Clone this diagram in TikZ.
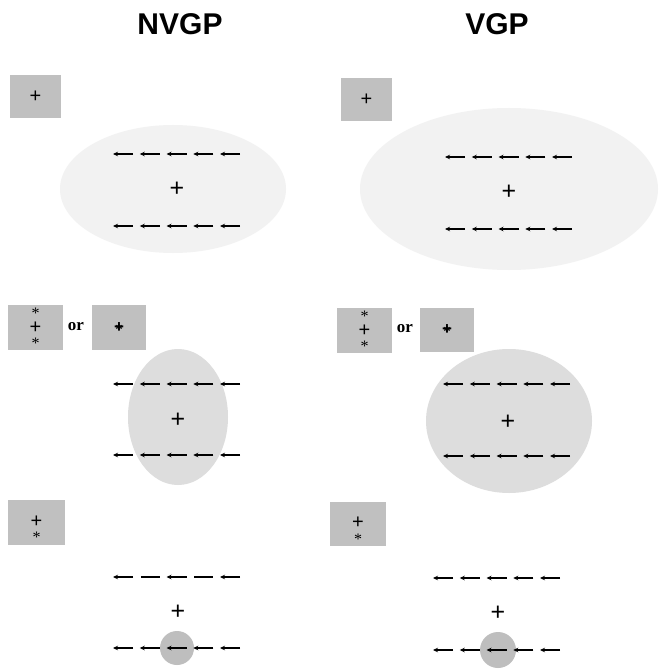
\documentclass[tikz,border=0pt]{standalone}
\usepackage{fontspec}
\setmainfont{Liberation Serif}
\setsansfont{Liberation Sans}
\usetikzlibrary{arrows.meta}

\definecolor{fieldlight}{HTML}{F2F2F2}
\definecolor{fieldmid}{HTML}{DDDDDD}
\definecolor{boxgray}{HTML}{C0C0C0}
\definecolor{spotgray}{HTML}{BEBEBE}

% five leftward arrows, first tail at x=#1, row at y=#2
\newcommand{\flankrow}[2]{%
  \foreach \k in {0,...,4}
    \draw[dir] ({#1+26.75*\k+20},#2) -- ({#1+26.75*\k},#2);}

\begin{document}
\begin{tikzpicture}[
  x=1pt,y=-1pt,
  dir/.style={line width=1.4pt,-{Stealth[length=5pt,width=4.5pt]}},
  bar/.style={line width=1.4pt},
  cue/.style={fill=boxgray,inner sep=0pt},
  fix/.style={font=\fontsize{25}{25}\selectfont\sffamily,inner sep=0pt},
  small/.style={font=\fontsize{20}{20}\selectfont\sffamily,inner sep=0pt},
  star/.style={font=\fontsize{16}{16}\selectfont,inner sep=0pt},
  title/.style={font=\fontsize{30}{30}\selectfont\sffamily\bfseries}
]
  \useasboundingbox[fill=white] (0,0) rectangle (663,671);

  \node[title] (nvgp) at (180,24) {NVGP};
  \node[title] (vgp) at (497,24) {VGP};

  % first row: large field
  \node[cue,minimum width=51pt,minimum height=43pt] (cueA) at (35.5,96.5) {};
  \node[small] at (cueA) {+};
  \fill[fieldlight] (173,189) ellipse (113 and 64);
  \flankrow{113}{154}
  \flankrow{113}{226}
  \node[fix] (fixA) at (177,189) {+};

  \node[cue,minimum width=51pt,minimum height=43pt] (cueB) at (366.5,99.5) {};
  \node[small] at (cueB) {+};
  \fill[fieldlight] (509,189) ellipse (149 and 81);
  \flankrow{445}{157}
  \flankrow{445}{229}
  \node[fix] (fixB) at (509,192) {+};

  % second row: medium field
  \node[cue,minimum width=55pt,minimum height=45pt] (cueC) at (35.5,327.5) {};
  \node[star] at ([yshift=14pt]cueC) {*};
  \node[small] at (cueC) {+};
  \node[star] at ([yshift=-16pt]cueC) {*};
  \node[font=\fontsize{17}{17}\selectfont\bfseries] (orC) at (76,327) {or};
  \node[cue,minimum width=54pt,minimum height=45pt] (cueD) at (119,327.5) {};
  \node[small,font=\fontsize{17}{17}\selectfont\sffamily\bfseries] at (cueD) {+};
  \node[star,font=\fontsize{15}{15}\selectfont\bfseries] at ([yshift=-2pt]cueD) {*};
  \fill[fieldmid] (178,417) ellipse (50 and 68);
  \flankrow{113}{384}
  \flankrow{113}{455}
  \node[fix] (fixC) at (178,420) {+};

  \node[cue,minimum width=55pt,minimum height=45pt] (cueE) at (364.5,330.5) {};
  \node[star] at ([yshift=14pt]cueE) {*};
  \node[small] at (cueE) {+};
  \node[star] at ([yshift=-16pt]cueE) {*};
  \node[font=\fontsize{17}{17}\selectfont\bfseries] (orE) at (405,329) {or};
  \node[cue,minimum width=54pt,minimum height=44pt] (cueF) at (447,330) {};
  \node[small,font=\fontsize{17}{17}\selectfont\sffamily\bfseries] at (cueF) {+};
  \node[star,font=\fontsize{15}{15}\selectfont\bfseries] at ([yshift=-2pt]cueF) {*};
  \fill[fieldmid] (509,421) ellipse (83 and 72);
  \flankrow{443}{384}
  \flankrow{443}{456}
  \node[fix] (fixF) at (508,422) {+};

  % third row: small spot
  \node[cue,minimum width=57pt,minimum height=45pt] (cueG) at (36.5,522.5) {};
  \node[small] at ([yshift=1pt]cueG) {+};
  \node[star] at ([yshift=-15pt]cueG) {*};
  \fill[spotgray] (177,648) circle (17);
  \foreach \k in {0,2,4}
    \draw[dir] ({113+26.75*\k+20},577) -- ({113+26.75*\k},577);
  \foreach \k in {1,3}
    \draw[bar] ({113+26.75*\k+1},577) -- ({113+26.75*\k+20},577);
  \flankrow{113}{648}
  \node[fix] (fixG) at (178,612) {+};

  \node[cue,minimum width=56pt,minimum height=44pt] (cueH) at (358,524) {};
  \node[small] at ([yshift=1pt]cueH) {+};
  \node[star] at ([yshift=-15pt]cueH) {*};
  \fill[spotgray] (498,650) circle (18);
  \flankrow{433}{578}
  \flankrow{433}{650}
  \node[fix] (fixH) at (498,613) {+};
\end{tikzpicture}
\end{document}
